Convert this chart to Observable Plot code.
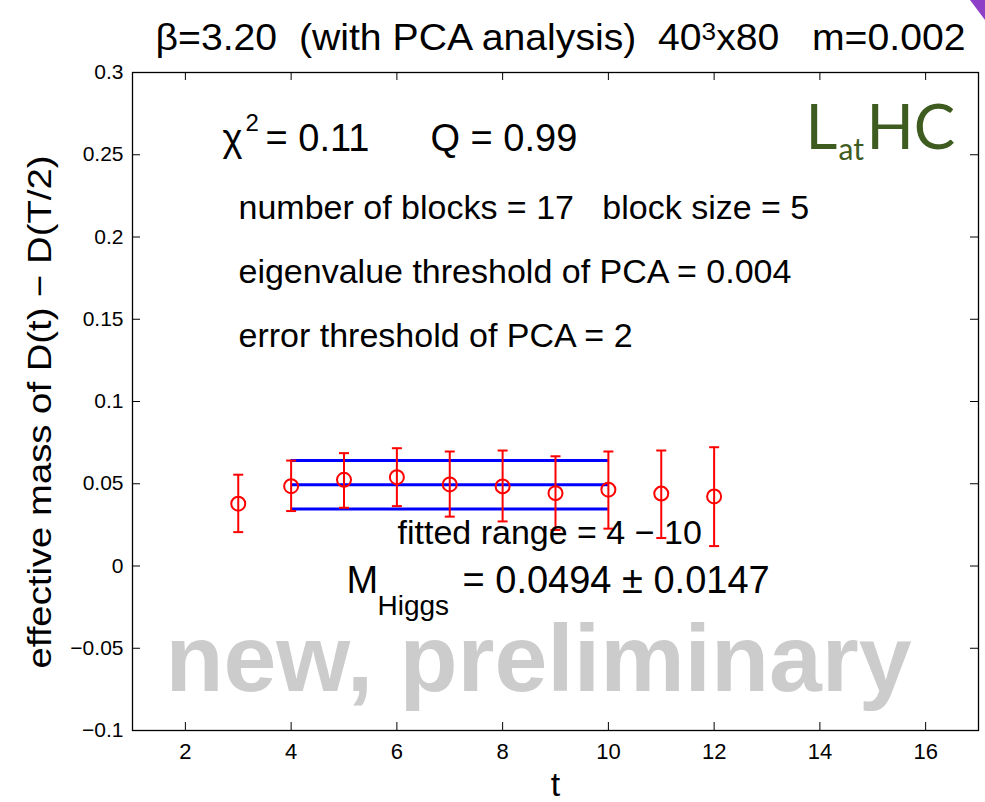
<!DOCTYPE html>
<html><head><meta charset="utf-8">
<script src="https://cdn.jsdelivr.net/npm/d3@7"></script>
<script src="https://cdn.jsdelivr.net/npm/@observablehq/plot@0.6"></script>
<style>
body{margin:0;background:#fff;overflow:hidden}
svg{white-space:pre}
</style>
</head><body><div id="chart"></div>
<script>
// ---- data ----
const tValues = [3, 4, 5, 6, 7, 8, 9, 10, 11, 12];
const massValues = [0.0379, 0.0485, 0.0524, 0.0540, 0.0496, 0.0484, 0.0443, 0.0464, 0.0440, 0.0423];
const errLow  = [0.0206, 0.0334, 0.0354, 0.0364, 0.0300, 0.0271, 0.0219, 0.0227, 0.0170, 0.0121];
const errHigh = [0.0555, 0.0641, 0.0686, 0.0716, 0.0696, 0.0702, 0.0667, 0.0696, 0.0702, 0.0722];
const fitRange = [4, 10];
const fitMass = 0.0494;
const fitErr = 0.0147;
const xTicks = [2, 4, 6, 8, 10, 12, 14, 16];
const yTicks = [-0.1, -0.05, 0, 0.05, 0.1, 0.15, 0.2, 0.25, 0.3];
const yTickLabels = ["−0.1", "−0.05", "0", "0.05", "0.1", "0.15", "0.2", "0.25", "0.3"];

const titleParts = ["β=3.20  (with PCA analysis)  40", "3", "x80   m=0.002"];
const titleText = titleParts.join("");
const yLabel = "effective mass of D(t) − D(T/2)";
const xLabel = "t";

// ---- derived tables ----
const points = tValues.map((t, i) => ({t, m: massValues[i], lo: errLow[i], hi: errHigh[i]}));
const fitLines = [fitMass - fitErr, fitMass, fitMass + fitErr].map(y => ({x1: fitRange[0], x2: fitRange[1], y}));

const W = 985, H = 802;
const mL = 132, mR = 7, mT = 72, mB = 72;
const fw = W - mL - mR, fh = H - mT - mB;
const tickLen = 8;
const sans = "'Liberation Sans', Arial, Helvetica, sans-serif";
const logoFont = "Lato, sans-serif";
const logoColor = "#3e5c1f";

const capSymbol = {draw(ctx, size) { const r = Math.sqrt(size / Math.PI); ctx.moveTo(-r, 0); ctx.lineTo(r, 0); }};

function note(text, dx, dy, opts = {}) {
  return Plot.text([text], {text: d => d, frameAnchor: "top-left", textAnchor: "start", lineAnchor: "middle",
    dx, dy, fontSize: 34, fill: "black", fontFamily: sans, ...opts});
}

const chart = Plot.plot({
  width: W, height: H,
  marginLeft: mL, marginRight: mR, marginTop: mT, marginBottom: mB,
  style: {fontFamily: sans, background: "white", overflow: "visible"},
  x: {domain: [1, 17], label: null},
  y: {domain: [-0.1, 0.3], label: null},
  marks: [
    // watermark
    note("new, preliminary", 33, 588, {fontSize: 95, fontWeight: "bold", fill: "#cccccc"}),
    // inward ticks on all sides
    Plot.tickX(xTicks, {x: d => d, insetTop: fh - tickLen, stroke: "black"}),
    Plot.tickX(xTicks, {x: d => d, insetBottom: fh - tickLen, stroke: "black"}),
    Plot.tickY(yTicks, {y: d => d, insetRight: fw - tickLen, stroke: "black"}),
    Plot.tickY(yTicks, {y: d => d, insetLeft: fw - tickLen, stroke: "black"}),
    Plot.axisX(xTicks, {tickSize: 0, tickPadding: 13, fontSize: 22, label: null}),
    Plot.axisY(yTicks, {tickSize: 0, tickPadding: 9, fontSize: 21, label: null,
      tickFormat: d => yTickLabels[yTicks.indexOf(d)]}),
    Plot.frame({stroke: "black", strokeWidth: 1.3}),
    // fit band
    Plot.ruleY(fitLines, {y: "y", x1: "x1", x2: "x2", stroke: "#0000ff", strokeWidth: 3}),
    // error bars
    Plot.ruleX(points, {x: "t", y1: "lo", y2: "hi", stroke: "#ff0000", strokeWidth: 2}),
    Plot.dot(points, {x: "t", y: "lo", symbol: capSymbol, r: 5, stroke: "#ff0000", strokeWidth: 2}),
    Plot.dot(points, {x: "t", y: "hi", symbol: capSymbol, r: 5, stroke: "#ff0000", strokeWidth: 2}),
    Plot.dot(points, {x: "t", y: "m", r: 7, stroke: "#ff0000", strokeWidth: 2, fill: "none"}),
    // annotations
    note("χ", 90, 66, {fontSize: 38}),
    note("2", 113, 51, {fontSize: 24}),
    note("= 0.11", 133, 66, {fontSize: 38}),
    note("Q = 0.99", 298, 66, {fontSize: 38}),
    note("number of blocks = 17   block size = 5", 106, 136),
    note("eigenvalue threshold of PCA = 0.004", 106, 200),
    note("error threshold of PCA = 2", 106, 264),
    note("fitted range = 4 − 10", 265, 461),
    note("M", 214, 508, {fontSize: 38}),
    note("Higgs", 245, 534, {fontSize: 28}),
    note("= 0.0494 ± 0.0147", 330, 508, {fontSize: 38}),
    // logo
    note("L", 673, 57, {fontSize: 62, fill: logoColor, fontFamily: logoFont}),
    note("at", 706, 78, {fontSize: 30, fill: logoColor, fontFamily: logoFont}),
    note("HC", 734, 57, {fontSize: 62, fill: logoColor, fontFamily: logoFont}),
    // title and axis labels
    Plot.text([titleText], {text: d => d, frameAnchor: "top", dx: 5, dy: -34, fontSize: 36, lineAnchor: "middle"}),
    Plot.text([yLabel], {text: d => d, frameAnchor: "left", textAnchor: "start", dx: -92, dy: 267, rotate: -90, fontSize: 34, lineAnchor: "middle"}),
    Plot.text([xLabel], {text: d => d, frameAnchor: "bottom", dy: 55, fontSize: 34, lineAnchor: "middle"})
  ]
});

// condense title and y label like the original narrow typeface; superscript the cube
d3.select(chart).selectAll("text").each(function() {
  const s = this.textContent;
  if (s === titleText) {
    const t = d3.select(this);
    t.text(null);
    t.append("tspan").text(titleParts[0]);
    t.append("tspan").attr("dy", "-0.4em").attr("font-size", 24).text(titleParts[1]);
    t.append("tspan").attr("dy", "0.26em").text(titleParts[2]);
    t.attr("textLength", 810).attr("lengthAdjust", "spacingAndGlyphs");
  }
  if (s === yLabel) d3.select(this).attr("textLength", 513).attr("lengthAdjust", "spacingAndGlyphs");
});

// slide-corner decoration
d3.select(chart).append("path")
  .attr("d", "M970,0 L985,0 L985,20 Z")
  .attr("fill", "#8e3fc8");

document.getElementById("chart").appendChild(chart);
</script>
</body></html>
